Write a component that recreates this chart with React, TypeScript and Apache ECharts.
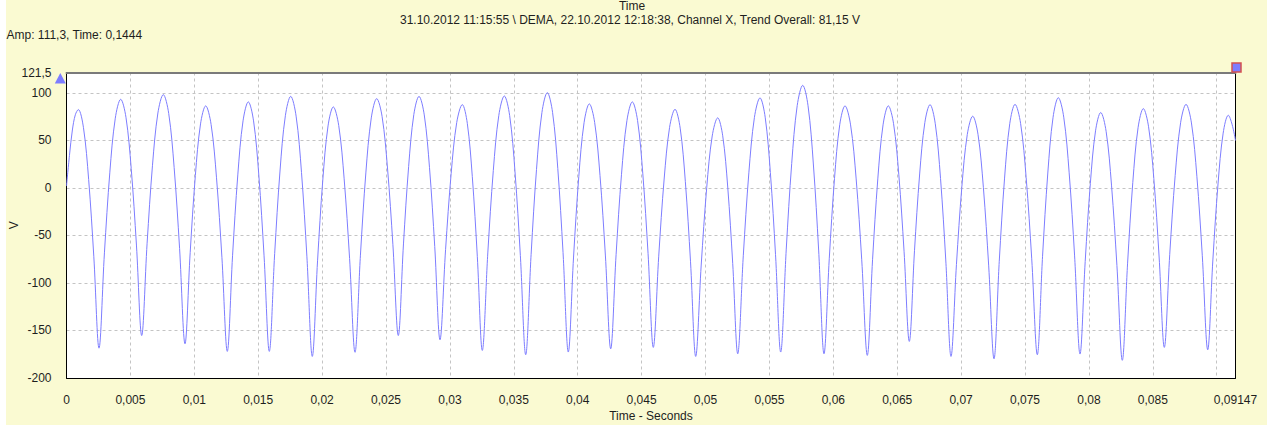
import React, { useEffect, useRef } from "react";
import * as echarts from "echarts";

// Time in milliseconds and amplitude in volts
const timeMs: number[] = [
  0, 0.23, 0.46, 0.69, 0.923,
  1.328, 1.733, 2.138, 2.543,
  2.968, 3.392, 3.817, 4.241,
  4.652, 5.063, 5.473, 5.884,
  6.307, 6.729, 7.152, 7.574,
  7.999, 8.423, 8.848, 9.272,
  9.677, 10.082, 10.487, 10.892,
  11.315, 11.737, 12.16, 12.582,
  12.993, 13.404, 13.814, 14.225,
  14.636, 15.047, 15.458, 15.869,
  16.288, 16.706, 17.125, 17.543,
  17.966, 18.388, 18.811, 19.233,
  19.644, 20.055, 20.465, 20.876,
  21.301, 21.725, 22.15, 22.574,
  22.999, 23.423, 23.848, 24.272,
  24.695, 25.117, 25.54, 25.962,
  26.367, 26.772, 27.177, 27.582,
  27.993, 28.404, 28.814, 29.225,
  29.661, 30.098, 30.534, 30.97,
  31.361, 31.753, 32.144, 32.535,
  32.966, 33.396, 33.827, 34.257,
  34.676, 35.094, 35.513, 35.931,
  36.354, 36.776, 37.199, 37.621,
  38.032, 38.443, 38.853, 39.264,
  39.675, 40.086, 40.497, 40.908,
  41.327, 41.745, 42.164, 42.582,
  43.005, 43.427, 43.85, 44.272,
  44.683, 45.094, 45.504, 45.915,
  46.34, 46.764, 47.189, 47.613,
  48.018, 48.423, 48.828, 49.233,
  49.664, 50.094, 50.525, 50.955,
  51.346, 51.738, 52.129, 52.52,
  52.956, 53.392, 53.828, 54.264,
  54.669, 55.074, 55.479, 55.884,
  56.315, 56.745, 57.176, 57.606,
  58.023, 58.439, 58.856, 59.272,
  59.683, 60.094, 60.504, 60.915,
  61.351, 61.788, 62.224, 62.66,
  63.071, 63.482, 63.893, 64.304,
  64.715, 65.126, 65.536, 65.947,
  66.352, 66.757, 67.162, 67.567,
  67.978, 68.389, 68.799, 69.21,
  69.635, 70.059, 70.484, 70.908,
  71.325, 71.741, 72.158, 72.574,
  72.985, 73.396, 73.807, 74.218,
  74.654, 75.09, 75.526, 75.962,
  76.373, 76.784, 77.195, 77.606,
  78.031, 78.455, 78.88, 79.304,
  79.709, 80.114, 80.518, 80.923,
  81.346, 81.768, 82.191, 82.613,
  83.024, 83.435, 83.846, 84.257,
  84.668, 85.079, 85.489, 85.9,
  86.325, 86.749, 87.174, 87.598,
  88.023, 88.447, 88.872, 89.296,
  89.699, 90.102, 90.505, 90.908,
  91.2, 91.47,
];

const volts: number[] = [
  2, 34, 61, 77, 82.5,
  63.4, 8.9, -72.4, -168.6,
  -68.3, 16.6, 73.4, 93.3,
  74.4, 20.5, -60.1, -155.3,
  -58.2, 23.9, 78.9, 98.2,
  78.3, 21.4, -63.6, -164,
  -68.1, 13.0, 67.4, 86.4,
  66.8, 10.7, -73.0, -172,
  -71.4, 13.7, 70.6, 90.6,
  70.6, 13.7, -71.4, -172,
  -69.2, 17.8, 76.0, 96.4,
  75.6, 16.2, -72.5, -177.3,
  -76.7, 8.4, 65.3, 85.3,
  65.7, 9.6, -74.1, -173,
  -70.7, 15.8, 73.7, 94,
  75.1, 21.0, -59.8, -155.3,
  -58.9, 22.7, 77.3, 96.4,
  76.9, 21.3, -61.7, -159.8,
  -65.0, 15.2, 68.9, 87.7,
  68.0, 11.9, -71.9, -171,
  -68.4, 18.3, 76.4, 96.8,
  76.1, 17.0, -71.2, -175.5,
  -69.9, 19.5, 79.3, 100.3,
  79.6, 20.3, -68.1, -172.7,
  -72.7, 12.0, 68.6, 88.5,
  68.9, 13.0, -70.6, -169.3,
  -69.8, 14.4, 70.8, 90.6,
  71.0, 14.9, -68.8, -167.8,
  -71.8, 9.4, 63.8, 82.8,
  63.0, 6.6, -77.7, -177.3,
  -81.1, 0.2, 54.7, 73.8,
  54.9, 1.0, -79.4, -174.5,
  -71.4, 15.9, 74.3, 94.8,
  74.5, 16.4, -70.2, -172.7,
  -65.2, 25.8, 86.7, 108,
  86.5, 25.2, -66.3, -174.5,
  -74.6, 10.0, 66.6, 86.4,
  66.4, 9.5, -75.6, -176.2,
  -75.6, 9.5, 66.4, 86.4,
  67.6, 13.8, -66.6, -161.5,
  -66.1, 14.7, 68.8, 87.7,
  67.6, 10.1, -75.8, -177.3,
  -80.5, 1.4, 56.3, 75.5,
  56.1, 0.7, -82.0, -179.8,
  -77.2, 9.5, 67.6, 88,
  68.0, 10.8, -74.6, -175.5,
  -71.9, 15.7, 74.4, 95,
  74.5, 15.9, -71.5, -174.8,
  -77.4, 4.9, 60.1, 79.4,
  59.6, 3.0, -81.5, -181.4,
  -79.9, 5.9, 63.4, 83.5,
  64.4, 9.9, -71.6, -167.8,
  -69.8, 13.0, 68.6, 88,
  68.4, 12.3, -71.4, -170.3,
  -75.8, 4.2, 57.7, 76.5,
  67, 50,
];

const X_MIN = 0;
const X_MAX = 0.09147;
const X_STEP = 0.005;
const Y_MIN = -200;
const Y_MAX = 121.5;
const Y_STEP = 50;

const titleLine1 = "Time";
const titleLine2 =
  "31.10.2012 11:15:55 \\ DEMA, 22.10.2012 12:18:38, Channel X, Trend Overall: 81,15 V";
const cursorText = "Amp: 111,3, Time: 0,1444";
const xName = "Time - Seconds";
const yName = "V";

const FONT = "'Liberation Sans', Arial, sans-serif";
const TXT = "#1e1e1e";

const fmt = (v: number) => String(+v.toFixed(6)).replace(".", ",");

export default function App() {
  const ref = useRef<HTMLDivElement>(null);

  useEffect(() => {
    if (!ref.current) return;
    const chart = echarts.init(ref.current, null, { renderer: "svg" });
    const data = timeMs.map((t, i) => [t / 1000, volts[i]]);

    chart.setOption({
      animation: false,
      backgroundColor: "#FAFAD2",
      textStyle: { fontFamily: FONT },
      grid: {
        left: 60.5,
        right: 31.5,
        top: 72.5,
        bottom: 47,
        show: true,
        backgroundColor: "#ffffff",
        borderWidth: 0,
        containLabel: false,
        outerBoundsMode: "none",
      },
      xAxis: [
        {
          type: "value",
          min: X_MIN,
          max: X_MAX,
          interval: X_STEP,
          position: "bottom",
          name: xName,
          nameLocation: "middle",
          nameGap: 32,
          nameMoveOverlap: false,
          nameTextStyle: { fontSize: 12, color: TXT, fontFamily: FONT },
          axisLine: { onZero: false, lineStyle: { color: "#000", width: 1 } },
          axisTick: { show: false },
          axisLabel: {
            margin: 16,
            fontSize: 12,
            color: TXT,
            fontFamily: FONT,
            showMinLabel: true,
            showMaxLabel: true,
            formatter: (v: number) =>
              Math.abs(v - 0.09) < 1e-9 ? "" : fmt(v),
          },
          splitLine: {
            show: true,
            lineStyle: { color: "#c4c4c4", type: [3, 3], width: 1 },
          },
        },
        {
          type: "value",
          min: X_MIN,
          max: X_MAX,
          position: "top",
          axisLine: { onZero: false, lineStyle: { color: "#7a7a7a", width: 2 } },
          axisTick: { show: false },
          axisLabel: { show: false },
          splitLine: { show: false },
        },
      ],
      yAxis: [
        {
          type: "value",
          min: Y_MIN,
          max: Y_MAX,
          interval: Y_STEP,
          position: "left",
          name: yName,
          nameLocation: "middle",
          nameGap: 47,
          nameMoveOverlap: false,
          nameTextStyle: { fontSize: 12, color: TXT, fontFamily: FONT },
          axisLine: { show: true, onZero: false, lineStyle: { color: "#000", width: 1 } },
          axisTick: { show: false },
          axisLabel: {
            margin: 15,
            fontSize: 12,
            color: TXT,
            fontFamily: FONT,
            showMinLabel: true,
            showMaxLabel: true,
            formatter: (v: number) => fmt(v),
          },
          splitLine: {
            show: true,
            lineStyle: { color: "#c4c4c4", type: [3, 3], width: 1 },
          },
        },
        {
          type: "value",
          min: Y_MIN,
          max: Y_MAX,
          position: "right",
          axisLine: { show: true, onZero: false, lineStyle: { color: "#000", width: 1 } },
          axisTick: { show: false },
          axisLabel: { show: false },
          splitLine: { show: false },
        },
      ],
      series: [
        {
          type: "line",
          data,
          xAxisIndex: 0,
          yAxisIndex: 0,
          showSymbol: false,
          smooth: 0.35,
          lineStyle: { color: "#7d7dff", width: 1 },
          z: 3,
        },
      ],
      graphic: [
        {
          type: "text",
          x: 626,
          y: 6,
          style: {
            text: titleLine1,
            fontSize: 12,
            fontFamily: FONT,
            fill: TXT,
            textAlign: "center",
            textVerticalAlign: "middle",
          },
        },
        {
          type: "text",
          x: 624,
          y: 20,
          style: {
            text: titleLine2,
            fontSize: 12,
            fontFamily: FONT,
            fill: TXT,
            textAlign: "center",
            textVerticalAlign: "middle",
          },
        },
        {
          type: "text",
          x: 0.5,
          y: 34.5,
          style: {
            text: cursorText,
            fontSize: 12,
            fontFamily: FONT,
            fill: TXT,
            textAlign: "left",
            textVerticalAlign: "middle",
          },
        },
        {
          type: "polygon",
          shape: { points: [[54.3, 73], [48.8, 83.5], [59.8, 83.5]] },
          style: { fill: "#7d7dff" },
          z: 10,
        },
        {
          type: "rect",
          shape: { x: 1226, y: 63, width: 9, height: 9 },
          style: { fill: "#7d7dff", stroke: "#d45050", lineWidth: 1.5 },
          z: 10,
        },
      ],
    });

    return () => chart.dispose();
  }, []);

  return (
    <div
      ref={ref}
      style={{
        position: "absolute",
        left: 6,
        top: 0,
        width: 1261,
        height: 425,
      }}
    />
  );
}
